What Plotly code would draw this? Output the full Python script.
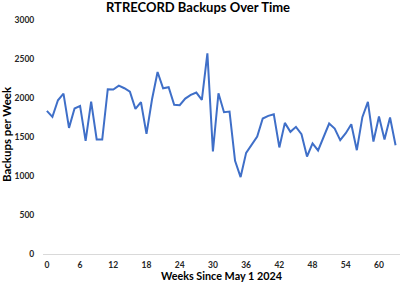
import plotly.graph_objects as go

weeks = list(range(64))
backups = [1835, 1758, 1971, 2057, 1617, 1865, 1899, 1451, 1954, 1468,
           1468, 2112, 2108, 2159, 2125, 2082, 1861, 1946, 1540, 1984,
           2334, 2125, 2138, 1912, 1908, 1993, 2040, 2070, 1976, 2573,
           1314, 2061, 1818, 1826, 1195, 986, 1297, 1395, 1506, 1737,
           1771, 1792, 1366, 1681, 1566, 1630, 1536, 1250, 1417, 1327,
           1489, 1673, 1609, 1459, 1549, 1664, 1331, 1754, 1950, 1442,
           1762, 1468, 1750, 1395]
x_ticks = list(range(0, 61, 6))
y_ticks = list(range(0, 3001, 500))

FONT = "Lato"

fig = go.Figure()
fig.add_trace(go.Scatter(x=weeks, y=backups, mode="lines",
                         line=dict(color="#3F6FC8", width=2)))

fig.update_layout(
    width=400, height=283,
    margin=dict(l=43, r=0, t=20, b=29),
    paper_bgcolor="white", plot_bgcolor="white",
    showlegend=False,
    font=dict(family=FONT, color="#262626"),
    annotations=[
        dict(text="<b>RTRECORD Backups Over Time</b>", xref="paper", yref="paper",
             x=0.434, y=1, yshift=13, showarrow=False, xanchor="center", yanchor="middle",
             font=dict(family=FONT, size=13, color="#000000")),
        dict(text="<b>Weeks Since May 1 2024</b>", xref="paper", yref="paper",
             x=0.5, y=0, yshift=-21.5, showarrow=False, xanchor="center", yanchor="middle",
             font=dict(family=FONT, size=10.8, color="#000000")),
        dict(text="<b>Backups per Week</b>", xref="paper", yref="paper",
             x=0, xshift=-37, y=0.5, yshift=3, showarrow=False, textangle=-90,
             xanchor="center", yanchor="middle",
             font=dict(family=FONT, size=11.5, color="#000000")),
    ],
)
fig.update_xaxes(range=[-0.7, 63.8], tickvals=x_ticks, showgrid=False, zeroline=False,
                 showline=True, linecolor="#D9D9D9", linewidth=1,
                 ticks="outside", ticklen=3, tickcolor="rgba(0,0,0,0)",
                 tickfont=dict(family=FONT, size=8.5, color="#262626", weight="bold"))
fig.update_yaxes(range=[0, 3000], tickvals=y_ticks, showgrid=False, zeroline=False,
                 showline=False, ticks="outside", ticklen=6, tickcolor="rgba(0,0,0,0)",
                 tickfont=dict(family=FONT, size=8.5, color="#262626", weight="bold"))

fig.write_html("out.html")
